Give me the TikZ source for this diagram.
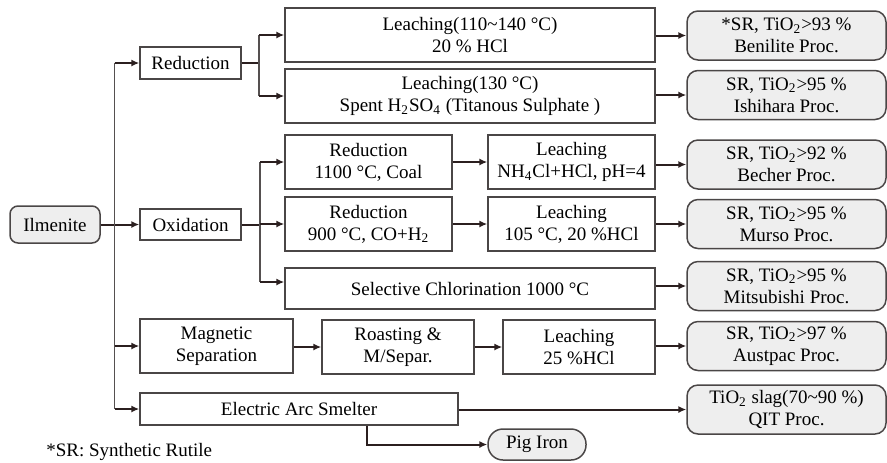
\documentclass[tikz,border=0pt]{standalone}
\usepackage{fontspec}
\setmainfont{Liberation Serif}
\newfontfamily\timesf{Liberation Serif}
\usetikzlibrary{arrows.meta}
\definecolor{boxc}{HTML}{4A4646}
\definecolor{linec}{HTML}{2B1F1F}
\definecolor{vlinec}{HTML}{555050}
\definecolor{gfill}{HTML}{EEEEEE}
\newcommand\fs{\timesf\fontsize{9.5}{11}\selectfont}
\tikzset{
 box/.style={draw=boxc, line width=0.75pt, align=center, inner sep=1pt, font=\fs},
 res/.style={box, fill=gfill, rounded corners=5.5pt, minimum width=99.5pt, minimum height=24.5pt},
 arr/.style={draw=linec, line width=1pt, -{Latex[length=4pt,width=3.6pt]}},
 ln/.style={draw=linec, line width=1pt},
 vln/.style={draw=vlinec, line width=0.8pt}
}
\begin{document}
\begin{tikzpicture}[x=0.5pt,y=-0.5pt]
\useasboundingbox (0,0) rectangle (887,462);
% source
\node[box, fill=gfill, rounded corners=4pt, minimum width=45pt, minimum height=18.5pt] (ilm) at (55,224.5) {Ilmenite};
% first level
\node[box, minimum width=50.5pt, minimum height=16pt] (red) at (190.5,63) {Reduction};
\node[box, minimum width=50.5pt, minimum height=15.5pt] (oxi) at (190.5,224.5) {Oxidation};
\node[box, minimum width=76.5pt, minimum height=27pt] (mag) at (216.5,346) {Magnetic\\Separation};
\node[box, minimum width=159pt, minimum height=16pt] (eas) at (299,409) {Electric Arc Smelter};
% second level
\node[box, minimum width=185pt, minimum height=27pt] (l1) at (470,35) {Leaching(110\textasciitilde140 °C)\\20 \% HCl};
\node[box, minimum width=185pt, minimum height=27pt] (l2) at (470,96) {Leaching(130 °C)\\Spent H\textsubscript{2}SO\textsubscript{4} (Titanous Sulphate )};
\node[box, minimum width=83.5pt, minimum height=27pt] (r1) at (368.5,162) {Reduction\\1100 °C, Coal};
\node[box, minimum width=83.5pt, minimum height=27pt] (lc1) at (571.5,162) {Leaching\\NH\textsubscript{4}Cl+HCl, pH=4};
\node[box, minimum width=83.5pt, minimum height=27pt] (r2) at (368.5,224) {Reduction\\900 °C, CO+H\textsubscript{2}};
\node[box, minimum width=83.5pt, minimum height=27pt] (lc2) at (571.5,224) {Leaching\\105 °C, 20 \%HCl};
\node[box, minimum width=185pt, minimum height=20.5pt] (sc) at (470,288.5) {Selective Chlorination 1000 °C};
\node[box, minimum width=76pt, minimum height=27pt] (ros) at (398,347) {Roasting \&\\M/Separ.};
\node[box, minimum width=76pt, minimum height=27pt] (lc3) at (579,347) {Leaching\\25 \%HCl};
\node[box, fill=gfill, rounded corners=7.5pt, minimum width=49pt, minimum height=15.5pt] (pig) at (537,444.5) {Pig Iron};
% results
\node[res] (ben) at (786.5,35.5) {*SR, TiO\textsubscript{2}>93 \%\\Benilite Proc.};
\node[res] (ish) at (786.5,95) {SR, TiO\textsubscript{2}>95 \%\\Ishihara Proc.};
\node[res] (bec) at (786.5,164.5) {SR, TiO\textsubscript{2}>92 \%\\Becher Proc.};
\node[res] (mur) at (786.5,224) {SR, TiO\textsubscript{2}>95 \%\\Murso Proc.};
\node[res] (mit) at (786.5,286) {SR, TiO\textsubscript{2}>95 \%\\Mitsubishi Proc.};
\node[res] (aus) at (786.5,346) {SR, TiO\textsubscript{2}>97 \%\\Austpac Proc.};
\node[res] (qit) at (786.5,409.5) {TiO\textsubscript{2} slag(70\textasciitilde90 \%)\\QIT Proc.};
% footnote
\node[font=\fs, anchor=west, inner sep=0pt] (fn) at (46,452) {*SR: Synthetic Rutile};
% trunk
\coordinate (t) at (114.5,0);
\draw[arr] (ilm.east) -- (oxi.west);
\draw[vln] (t |- red.west) -- (t |- eas.west);
\draw[arr] (t |- red.west) -- (red.west);
\draw[arr] (t |- mag.west) -- (mag.west);
\draw[arr] (t |- eas.west) -- (eas.west);
% reduction branch
\coordinate (rb) at (259,0);
\draw[ln] (red.east) -- (red.east -| rb);
\draw[vln] (rb |- l1.west) -- (rb |- l2.west);
\draw[arr] (rb |- l1.west) -- (l1.west);
\draw[arr] (rb |- l2.west) -- (l2.west);
% oxidation branch
\coordinate (ob) at (260,0);
\coordinate (scin) at (260,282);
\draw[ln] (oxi.east) -- (oxi.east -| ob);
\draw[vln] (ob |- r1.west) -- (scin);
\draw[arr] (ob |- r1.west) -- (r1.west);
\draw[arr] (ob |- r2.west) -- (r2.west);
\draw[arr] (scin) -- (scin -| sc.west);
\draw[arr] (r1.east) -- (lc1.west);
\draw[arr] (r2.east) -- (lc2.west);
% magnetic branch
\draw[arr] (mag.east |- ros.west) -- (ros.west);
\draw[arr] (ros.east) -- (lc3.west);
% to results
\draw[arr] (l1.east |- ben.west) -- (ben.west);
\draw[arr] (l2.east |- ish.west) -- (ish.west);
\draw[arr] (lc1.east |- bec.west) -- (bec.west);
\draw[arr] (lc2.east |- mur.west) -- (mur.west);
\draw[arr] (sc.east |- mit.west) -- (mit.west);
\draw[arr] (lc3.east |- aus.west) -- (aus.west);
\draw[arr] (eas.east |- qit.west) -- (qit.west);
% pig iron
\coordinate (pg) at (367,0);
\draw[arr] (eas.south -| pg) |- (pig.west);
\end{tikzpicture}
\end{document}
